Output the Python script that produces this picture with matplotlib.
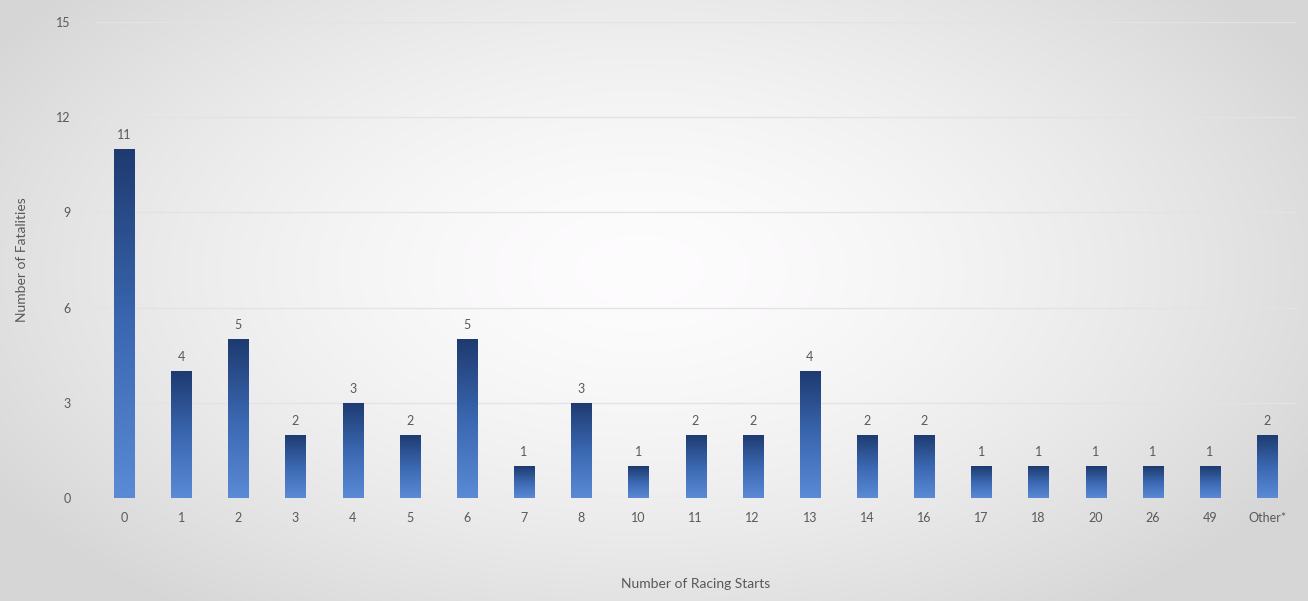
import numpy as np
import matplotlib
matplotlib.use("Agg")
import matplotlib.pyplot as plt
from matplotlib.colors import LinearSegmentedColormap

categories = ["0", "1", "2", "3", "4", "5", "6", "7", "8", "10", "11", "12", "13",
              "14", "16", "17", "18", "20", "26", "49", "Other*"]
fatalities = [11, 4, 5, 2, 3, 2, 5, 1, 3, 1, 2, 2, 4, 2, 2, 1, 1, 1, 1, 1, 2]
yticks = [0, 3, 6, 9, 12, 15]

plt.rcParams['font.family'] = ['Lato', 'DejaVu Sans']
fig = plt.figure(figsize=(13.08, 6.01), dpi=100)

# radial gradient background
bg = fig.add_axes([0, 0, 1, 1], zorder=0)
yy, xx = np.mgrid[0:601, 0:1308]
r = np.sqrt(((xx - 640) / 760.0) ** 2 + ((yy - 270) / 420.0) ** 2)
r = np.clip(r, 0, 1)
val = 1.0 - 0.15 * r ** 1.6
img = np.dstack([val * 0.995, val * 0.99, val * 0.995])
bg.imshow(img, aspect='auto', extent=[0, 1, 0, 1], origin='upper')
bg.axis('off')

ax = fig.add_axes([0.073, 0.1714, 0.9175, 0.792], zorder=1)
ax.patch.set_alpha(0)
x = np.arange(len(categories))
bars = ax.bar(x, fatalities, width=0.35, color='#2f5597', edgecolor='#1c2f55',
              linewidth=0.6, zorder=3)

cmap = LinearSegmentedColormap.from_list('barg', ['#5b8ad6', '#3a67b0', '#1e3a70'])
grad = np.linspace(0, 1, 256).reshape(-1, 1)
for b in bars:
    x0, y0 = b.get_x(), b.get_y()
    w, h = b.get_width(), b.get_height()
    im = ax.imshow(grad, cmap=cmap, aspect='auto', origin='lower',
                   extent=[x0, x0 + w, y0, y0 + h], zorder=3.5)
    im.set_clip_path(b)

for xi, v in zip(x, fatalities):
    ax.text(xi, v + 0.25, str(v), ha='center', va='bottom', fontsize=9,
            color='#595959', zorder=5)

ax.set_xlim(-0.5, len(categories) - 0.5)
ax.set_ylim(0, 15)
ax.set_yticks(yticks)
ax.set_xticks(x)
ax.set_xticklabels(categories)
ax.tick_params(axis='both', length=0, labelsize=9, colors='#595959')
ax.tick_params(axis='x', pad=10)
ax.tick_params(axis='y', pad=18)
ax.yaxis.grid(True, color='#e3e3e3', linewidth=1.0, zorder=0)
ax.set_axisbelow(True)
for s in ax.spines.values():
    s.set_visible(False)
ax.set_xlabel('Number of Racing Starts', fontsize=10, color='#595959', labelpad=39)
ax.set_ylabel('Number of Fatalities', fontsize=10, color='#595959', labelpad=20)

fig.savefig('out.png', dpi=100)
